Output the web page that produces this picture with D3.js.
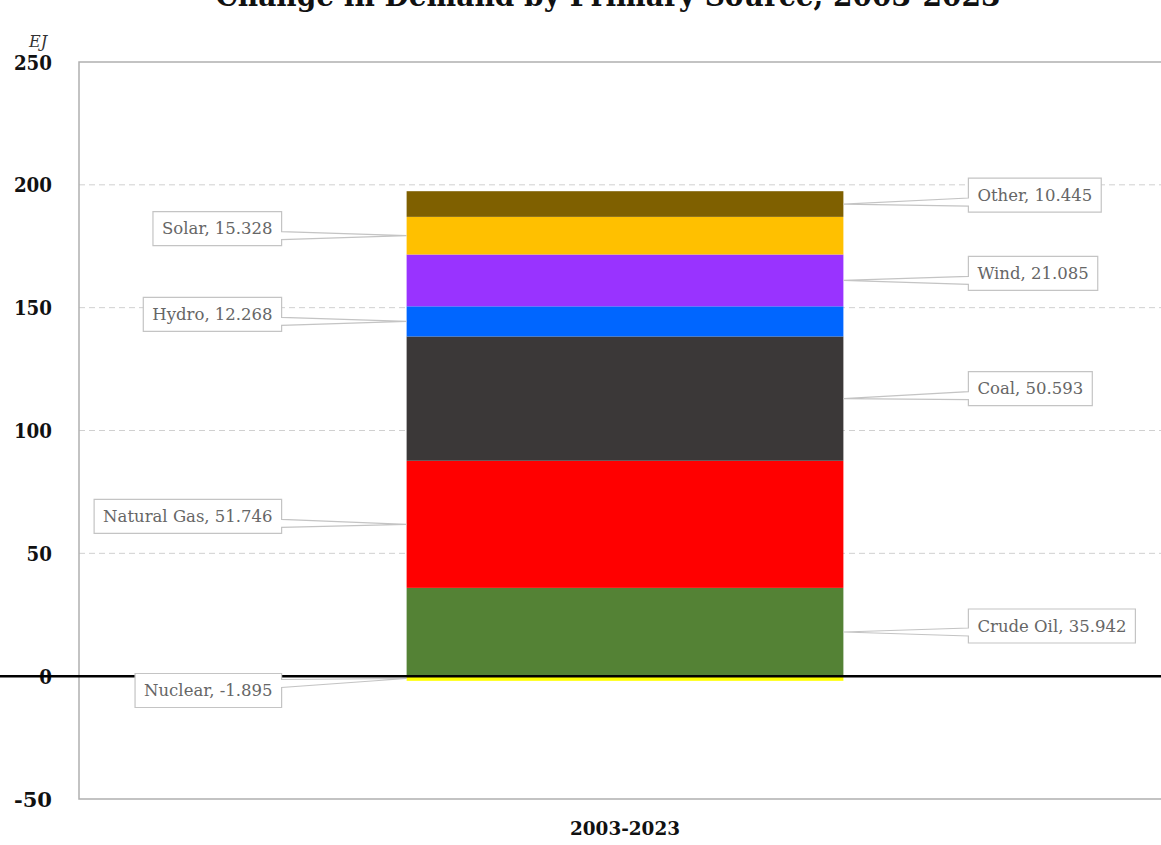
<!DOCTYPE html>
<html>
<head>
<meta charset="utf-8">
<script src="https://cdn.jsdelivr.net/npm/d3@7"></script>
<style>
  html, body { margin: 0; padding: 0; background: #fff; }
  svg { display: block; }
</style>
</head>
<body>
<svg id="chart" width="1161" height="845"></svg>
<script>
// Change in primary energy demand, 2003-2023 (EJ)
const period = "2003-2023";
const sources = ["Crude Oil", "Natural Gas", "Coal", "Hydro", "Wind", "Solar", "Other", "Nuclear"];
const changes = [35.942, 51.746, 50.593, 12.268, 21.085, 15.328, 10.445, -1.895];
const sourceColors = ["#548235", "#ff0000", "#3b3838", "#0066ff", "#9933ff", "#ffc000", "#7f6000", "#ffff00"];
const yTicks = [-50, 0, 50, 100, 150, 200, 250];

// callout placement: which side of the bar, and vertical shift of the box from its anchor
const calloutSide = ["right", "left", "right", "left", "right", "left", "right", "left"];
const calloutShift = [-6, -8, -10, -7, -7, -7, -9, 12];

const svg = d3.select("#chart");
const W = 1161, H = 845;
const plot = { left: 79, right: 1171, top: 62, bottom: 799 };

const x = d3.scaleBand()
  .domain([period])
  .range([plot.left, plot.right])
  .padding(0.4286);

const y = d3.scaleLinear()
  .domain([-50, 250])
  .range([plot.bottom, plot.top]);

const row = { period };
sources.forEach((s, i) => row[s] = changes[i]);
const series = d3.stack()
  .keys(sources)
  .offset(d3.stackOffsetDiverging)([row]);

const serif = "'DejaVu Serif', 'Liberation Serif', serif";

// title (sits partly above the top edge)
svg.append("text")
  .attr("x", 608).attr("y", 6)
  .attr("text-anchor", "middle")
  .attr("font-family", serif)
  .attr("font-weight", "bold")
  .attr("font-size", 29)
  .attr("textLength", 785)
  .attr("lengthAdjust", "spacingAndGlyphs")
  .attr("fill", "#111")
  .text("Change in Demand by Primary Source, 2003-2023");

// unit label
svg.append("text")
  .attr("x", 38).attr("y", 47)
  .attr("text-anchor", "middle")
  .attr("font-family", serif)
  .attr("font-style", "italic")
  .attr("font-size", 16)
  .attr("fill", "#333")
  .text("EJ");

// dashed gridlines
svg.append("g")
  .selectAll("line")
  .data(yTicks.filter(t => t > -50 && t < 250 && t !== 0))
  .join("line")
  .attr("x1", plot.left).attr("x2", W)
  .attr("y1", d => y(d)).attr("y2", d => y(d))
  .attr("stroke", "#d0d0d0")
  .attr("stroke-width", 1)
  .attr("stroke-dasharray", "6,4");

// plot frame
svg.append("path")
  .attr("d", `M${W + 5},${y(250)}H${plot.left}V${y(-50)}H${W + 5}`)
  .attr("fill", "none")
  .attr("stroke", "#b0b0b0")
  .attr("stroke-width", 1.5);

// y axis labels
const yAxis = d3.axisLeft(y)
  .tickValues(yTicks)
  .tickFormat(d => String(d))
  .tickSize(0)
  .tickPadding(27);
const gy = svg.append("g")
  .attr("transform", `translate(${plot.left},0)`)
  .call(yAxis);
gy.select(".domain").remove();
gy.selectAll("text")
  .attr("font-family", serif)
  .attr("font-weight", "bold")
  .attr("font-size", 20)
  .attr("fill", "#111")
  .attr("dy", "0.35em")
  .attr("textLength", function (d) { return String(d).length * 12.7; })
  .attr("lengthAdjust", "spacingAndGlyphs");

// x axis label
const xAxis = d3.axisBottom(x).tickSize(0).tickPadding(23);
const gx = svg.append("g")
  .attr("transform", `translate(0,${plot.bottom})`)
  .call(xAxis);
gx.select(".domain").remove();
gx.selectAll("text")
  .attr("font-family", serif)
  .attr("font-weight", "bold")
  .attr("font-size", 19)
  .attr("fill", "#111")
  .attr("textLength", 110)
  .attr("lengthAdjust", "spacingAndGlyphs");

// stacked bar segments
svg.append("g")
  .selectAll("rect")
  .data(series)
  .join("rect")
  .attr("x", x(period))
  .attr("width", x.bandwidth())
  .attr("y", s => y(Math.max(s[0][0], s[0][1])))
  .attr("height", s => Math.abs(y(s[0][0]) - y(s[0][1])))
  .attr("fill", (s, i) => sourceColors[i]);

// zero line
svg.append("line")
  .attr("x1", 0).attr("x2", W)
  .attr("y1", y(0)).attr("y2", y(0))
  .attr("stroke", "#000")
  .attr("stroke-width", 2.5);

// callouts
const callouts = svg.append("g");
const barLeft = x(period), barRight = x(period) + x.bandwidth();
const gap = 125;
const boxH = 34, padX = 9, half = 4, margin = 10;

series.forEach((s, i) => {
  const lo = s[0][0], hi = s[0][1];
  const ay = y((lo + hi) / 2);
  const side = calloutSide[i];
  const ax = side === "right" ? barRight : barLeft;
  const cy = ay + calloutShift[i];

  const g = callouts.append("g");
  const path = g.append("path");
  const label = g.append("text")
    .attr("font-family", serif)
    .attr("font-size", 16.5)
    .attr("fill", "#666")
    .attr("dy", "0.35em")
    .text(`${sources[i]}, ${changes[i]}`);
  const tw = label.node().getComputedTextLength();
  const bw = tw + padX * 2;
  const x0 = side === "right" ? ax + gap : ax - gap - bw;
  const x1 = x0 + bw;
  const y0 = cy - boxH / 2, y1 = cy + boxH / 2;
  const py = Math.max(y0 + margin, Math.min(y1 - margin, ay));
  label.attr("x", x0 + padX).attr("y", cy);

  let d;
  if (side === "right") {
    d = `M${x0},${y0}H${x1}V${y1}H${x0}V${py + half}L${ax},${ay}L${x0},${py - half}Z`;
  } else {
    d = `M${x0},${y0}H${x1}V${py - half}L${ax},${ay}L${x1},${py + half}V${y1}H${x0}Z`;
  }
  path.attr("d", d)
    .attr("fill", "#fff")
    .attr("stroke", "#c4c4c4")
    .attr("stroke-width", 1.2);
  label.raise();
});
</script>
</body>
</html>
